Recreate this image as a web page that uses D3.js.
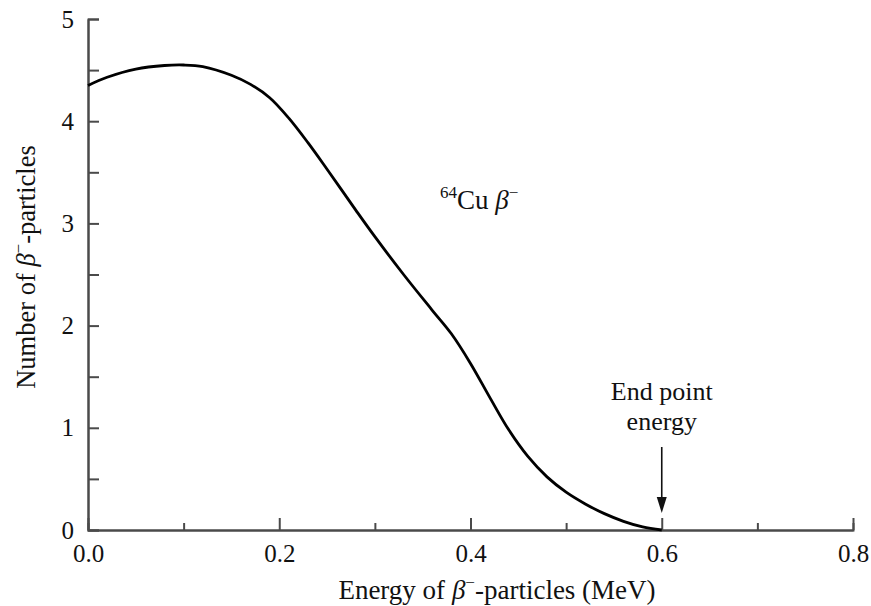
<!DOCTYPE html>
<html>
<head>
<meta charset="utf-8">
<script src="https://cdn.jsdelivr.net/npm/d3@7"></script>
<style>
  body { margin: 0; background: #fff; }
  svg text { font-family: 'Liberation Serif', 'Times New Roman', serif; fill: #111; }
</style>
</head>
<body>
<svg width="871" height="606"></svg>
<script>
// beta spectrum of 64Cu
const energy = [0, 0.02, 0.05, 0.08, 0.1, 0.12, 0.15, 0.17, 0.19, 0.21, 0.23, 0.25, 0.28, 0.3, 0.33, 0.36, 0.38, 0.4, 0.42, 0.44, 0.46, 0.48, 0.5, 0.52, 0.54, 0.56, 0.58, 0.6];
const counts = [4.35, 4.43, 4.51, 4.545, 4.55, 4.535, 4.45, 4.36, 4.23, 4.03, 3.79, 3.53, 3.13, 2.87, 2.50, 2.15, 1.92, 1.63, 1.30, 0.98, 0.72, 0.52, 0.37, 0.255, 0.16, 0.085, 0.03, 0];

const xMajor = [0, 0.2, 0.4, 0.6, 0.8];
const xMinor = [0.1, 0.3, 0.5, 0.7];
const yMajor = [0, 1, 2, 3, 4, 5];
const yMinor = [0.5, 1.5, 2.5, 3.5, 4.5];
const endPoint = 0.6;

const svg = d3.select('svg');
const axisColour = '#4a4a4a';

const x = d3.scaleLinear().domain([0, 0.8]).range([88, 853]);
const y = d3.scaleLinear().domain([0, 5]).range([530, 19]);

function styleAxis(g) {
  g.selectAll('path, line').attr('stroke', axisColour).attr('stroke-width', 2);
  g.selectAll('text')
    .attr('fill', '#111')
    .style('font-family', "'Liberation Serif', serif")
    .style('font-size', '25px');
}

// minor ticks first, labels off
svg.append('g')
  .attr('transform', `translate(0,${y(0)})`)
  .call(d3.axisBottom(x).tickValues(xMinor).tickSize(-7).tickFormat(''))
  .call(styleAxis);

svg.append('g')
  .attr('transform', `translate(${x(0)},0)`)
  .call(d3.axisLeft(y).tickValues(yMinor).tickSize(-11).tickFormat(''))
  .call(styleAxis);

svg.append('g')
  .attr('transform', `translate(0,${y(0)})`)
  .call(d3.axisBottom(x).tickValues(xMajor).tickSizeInner(-12).tickSizeOuter(0)
    .tickPadding(14).tickFormat(d3.format('.1f')))
  .call(styleAxis);

svg.append('g')
  .attr('transform', `translate(${x(0)},0)`)
  .call(d3.axisLeft(y).tickValues(yMajor).tickSizeInner(-11).tickSizeOuter(0)
    .tickPadding(14).tickFormat(d3.format('d')))
  .call(styleAxis);

// curve
const line = d3.line()
  .x((d, i) => x(energy[i]))
  .y(d => y(d))
  .curve(d3.curveCatmullRom.alpha(0.5));

svg.append('path')
  .datum(counts)
  .attr('d', line)
  .attr('fill', 'none')
  .attr('stroke', '#000')
  .attr('stroke-width', 2.8);

// axis titles
const xTitle = svg.append('text')
  .attr('x', 497)
  .attr('y', 599)
  .attr('text-anchor', 'middle')
  .style('font-size', '27px');
xTitle.append('tspan').text('Energy of ');
xTitle.append('tspan').style('font-style', 'italic').text('β');
xTitle.append('tspan').attr('dy', -11).style('font-size', '17px').text('−');
xTitle.append('tspan').attr('dy', 11).text('-particles (MeV)');

const yTitle = svg.append('text')
  .attr('transform', 'translate(35,267) rotate(-90)')
  .attr('text-anchor', 'middle')
  .style('font-size', '26.5px');
yTitle.append('tspan').text('Number of ');
yTitle.append('tspan').style('font-style', 'italic').text('β');
yTitle.append('tspan').attr('dy', -11).style('font-size', '17px').text('−');
yTitle.append('tspan').attr('dy', 11).text('-particles');

// isotope label
const iso = svg.append('text')
  .attr('x', 440)
  .attr('y', 209)
  .style('font-size', '27px');
iso.append('tspan').attr('dy', -11).style('font-size', '17px').text('64');
iso.append('tspan').attr('dy', 11).text('Cu ');
iso.append('tspan').style('font-style', 'italic').text('β');
iso.append('tspan').attr('dy', -11).style('font-size', '17px').text('−');

// end point annotation
svg.append('text')
  .attr('x', x(endPoint))
  .attr('y', 400)
  .attr('text-anchor', 'middle')
  .style('font-size', '26px')
  .text('End point');
svg.append('text')
  .attr('x', x(endPoint))
  .attr('y', 430)
  .attr('text-anchor', 'middle')
  .style('font-size', '26px')
  .text('energy');

svg.append('line')
  .attr('x1', x(endPoint)).attr('x2', x(endPoint))
  .attr('y1', 447).attr('y2', 500)
  .attr('stroke', '#111')
  .attr('stroke-width', 1.6);
svg.append('path')
  .attr('d', `M${x(endPoint) - 5},497 L${x(endPoint) + 5},497 L${x(endPoint)},513 Z`)
  .attr('fill', '#111');
</script>
</body>
</html>
